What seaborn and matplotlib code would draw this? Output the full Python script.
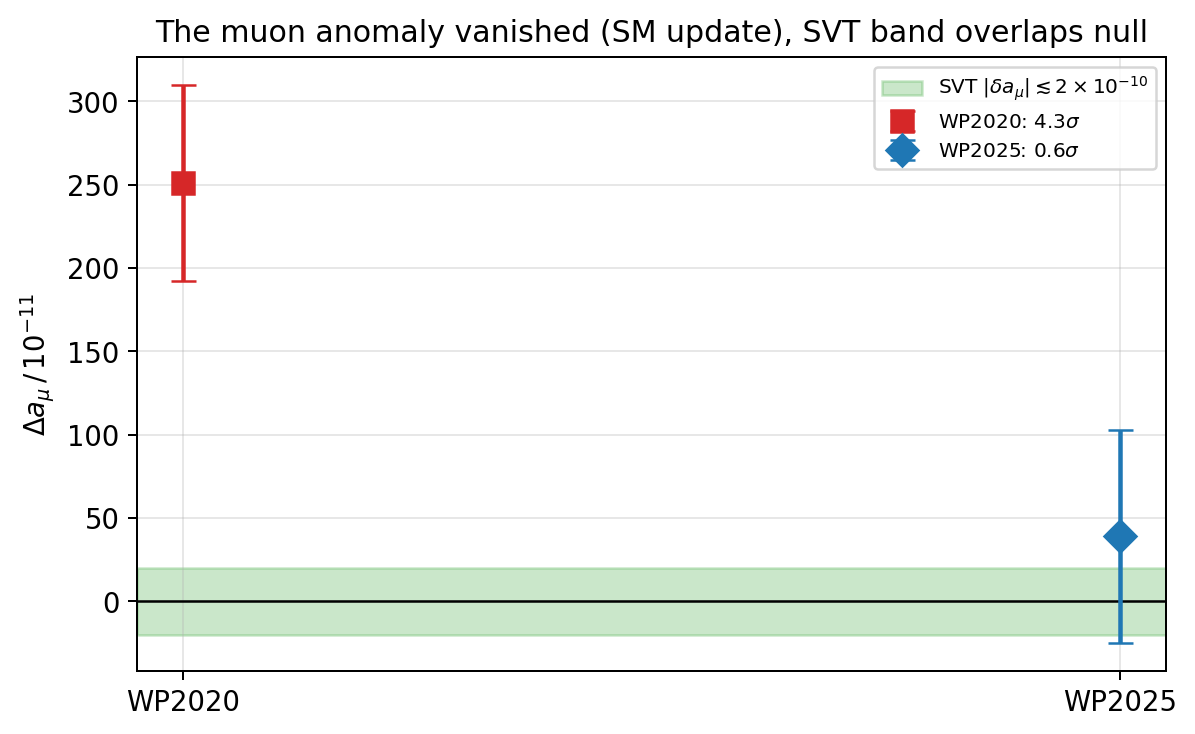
import matplotlib
matplotlib.use("Agg")
import matplotlib.pyplot as plt
import seaborn as sns
import pandas as pd

labels = ["WP2020", "WP2025"]
delta_a = [251, 39]
sigma_err = [59, 64]
tension = ["4.3", "0.6"]
svt_band = 20

sns.reset_orig()
plt.rcParams["font.family"] = ["DejaVu Sans"]

df = pd.DataFrame({"label": labels, "delta": delta_a, "err": sigma_err, "tension": tension})

fig, ax = plt.subplots(figsize=(6.64, 4.08), dpi=180)
ax.axhspan(-svt_band, svt_band, color="tab:green", alpha=0.25,
           label=r"SVT $|\delta a_\mu| \lesssim 2\times10^{-10}$")
ax.axhline(0, color="black", lw=1)

styles = {"WP2020": ("s", "tab:red"), "WP2025": ("D", "tab:blue")}
for i, row in df.iterrows():
    marker, color = styles[row["label"]]
    ax.errorbar(i, row["delta"], yerr=row["err"], fmt=marker, color=color,
                ms=9, capsize=5, elinewidth=1.8,
                label=f"{row['label']}: {row['tension']}$\\sigma$", zorder=3)

ax.set_xticks(range(len(labels)))
ax.set_xticklabels(labels)
ax.tick_params(labelsize=11)
ax.margins(x=0.049)
ax.grid(True, alpha=0.3)
ax.set_ylabel(r"$\Delta a_\mu\,/\,10^{-11}$", fontsize=11)
ax.set_title("The muon anomaly vanished (SM update), SVT band overlaps null")
ax.legend(fontsize=8, loc="upper right")

fig.subplots_adjust(left=0.1146, right=0.9757, top=0.9223, bottom=0.0858)
fig.savefig("out.png", dpi=180)
